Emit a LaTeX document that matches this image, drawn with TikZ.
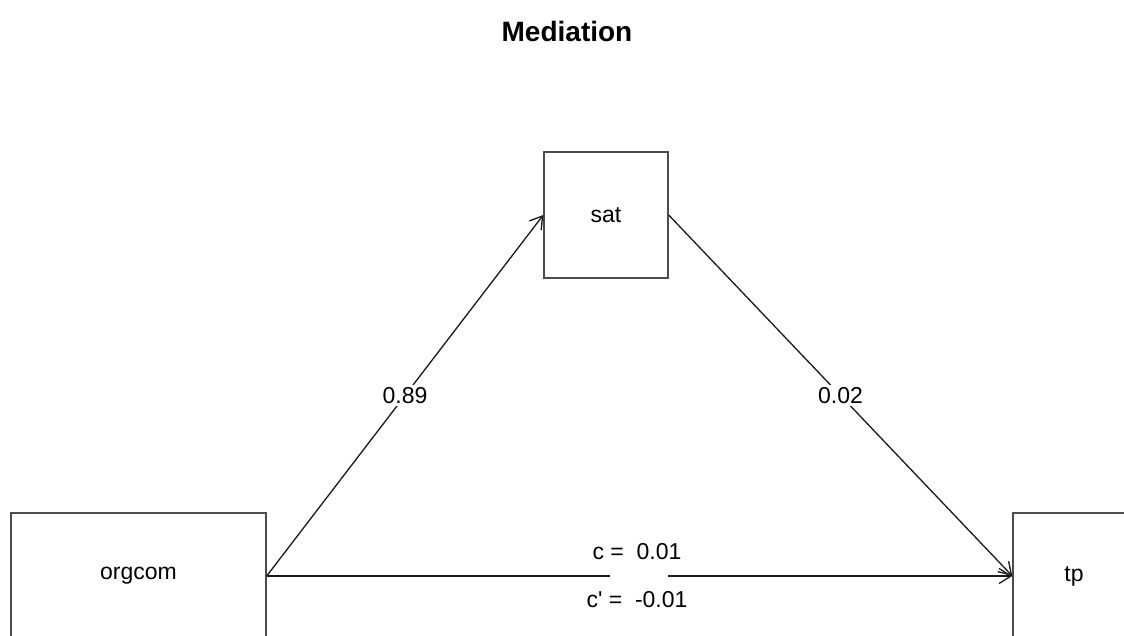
\documentclass[tikz,border=0pt]{standalone}
\usepackage{fontspec}
\newfontfamily\lab{Liberation Sans}
\usetikzlibrary{arrows.meta}
\begin{document}
\begin{tikzpicture}[x=1pt,y=-1pt,
  var/.style={draw=black!70, line width=1.4pt, minimum height=126pt, inner sep=0pt, font=\lab\fontsize{23}{27}\selectfont},
  link/.style={draw=black!90, line width=1.3pt},
  arr/.style={link, -{Straight Barb[length=12pt,width=15pt,line width=1.3pt]}},
  coef/.style={fill=white, inner sep=2pt, font=\lab\fontsize{23}{27}\selectfont},
  ctext/.style={inner sep=0pt, font=\lab\fontsize{23}{27}\selectfont}]
\useasboundingbox (0,0) rectangle (1124,635);
\clip (0,0) rectangle (1124,635);
\fill[white] (0,0) rectangle (1124,635);
\node[font=\lab\bfseries\fontsize{28}{32}\selectfont] (title) at (567,31) {Mediation};
\node[var, minimum width=255pt] (orgcom) at (138.5,576) {orgcom};
\node[var, minimum width=124pt] (sat) at (606,215) {sat};
\node[var, minimum width=122pt] (tp) at (1074,576) {tp};
\draw[arr] (orgcom.east) -- (sat.west) node[coef, midway] (a) {0.89};
\draw[arr] (sat.east) -- (tp.west) node[coef, midway] (b) {0.02};
\coordinate (gapL) at (610,576);
\coordinate (gapR) at (668,576);
\draw[link] (orgcom.east) -- (gapL);
\draw[arr] (gapR) -- (tp.west);
\node[ctext] (c) at (637,552) {c = \ 0.01};
\node[ctext] (cp) at (637,600) {c' = \ -0.01};
\end{tikzpicture}
\end{document}
